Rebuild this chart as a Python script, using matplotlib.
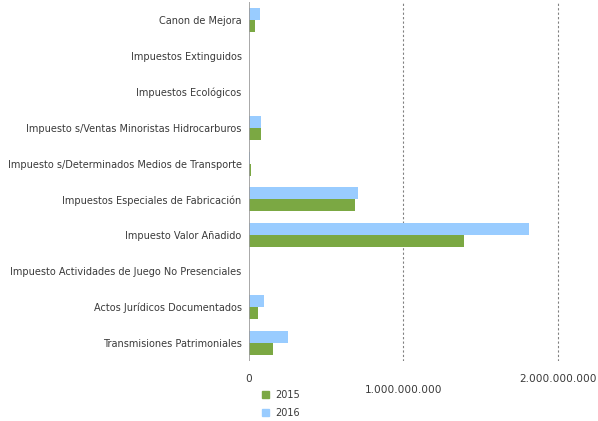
import numpy as np
import matplotlib.pyplot as plt
from matplotlib.patches import Patch

# Categories (top to bottom) and values in euros
categorias = [
    'Canon de Mejora',
    'Impuestos Extinguidos',
    'Impuestos Ecológicos',
    'Impuesto s/Ventas Minoristas Hidrocarburos',
    'Impuesto s/Determinados Medios de Transporte',
    'Impuestos Especiales de Fabricación',
    'Impuesto Valor Añadido',
    'Impuesto Actividades de Juego No Presenciales',
    'Actos Jurídicos Documentados',
    'Transmisiones Patrimoniales',
]
valores_2015 = [42e6, 0.5e6, 2e6, 80e6, 16e6, 687e6, 1390e6, 1.5e6, 61e6, 158e6]
valores_2016 = [74e6, 2e6, 2.5e6, 81e6, 12e6, 705e6, 1810e6, 1.5e6, 100e6, 255e6]
ticks = [0, 1e9, 2e9]
tick_labels = ['0', '\n1.000.000.000', '2.000.000.000']

verde = '#7BA843'
azul = '#99CCFF'
texto = '#3A3A3A'

fig = plt.figure(figsize=(5.98, 4.21), dpi=100)
ax = fig.add_axes([248.5 / 598, 60 / 421, 1 - 248.5 / 598, 359 / 421])

y = np.arange(len(categorias))
h = 0.335
ax.barh(y - h / 2, valores_2016, height=h, color=azul, zorder=3)
ax.barh(y + h / 2, valores_2015, height=h, color=verde, zorder=3)

ax.set_ylim(len(categorias) - 0.5, -0.5)
ax.set_xlim(0, 2.255e9)

# dashed vertical grid
for t in ticks[1:]:
    ax.axvline(t, color='#808080', linestyle=(0, (2, 2)), linewidth=0.8, zorder=1)
ax.axvline(0, color='#999999', linewidth=1.2, zorder=4)

for s in ax.spines.values():
    s.set_visible(False)

ax.set_yticks(y)
ax.set_yticklabels(categorias, fontsize=7, color=texto)
ax.tick_params(axis='y', length=0, pad=5)
ax.set_xticks(ticks)
ax.set_xticklabels(tick_labels, fontsize=7.6, color=texto)
ax.tick_params(axis='x', length=0, pad=9)

handles = [Patch(color=verde, label='2015'), Patch(color=azul, label='2016')]
leg = fig.legend(handles=handles, loc='upper left', bbox_to_anchor=(258 / 598, 1 - 386 / 421),
                 frameon=False, fontsize=7, handlelength=0.75, handleheight=0.75,
                 handletextpad=0.6, labelspacing=0.85, borderaxespad=0)
for t in leg.get_texts():
    t.set_color(texto)

fig.savefig('out.png', dpi=100)
